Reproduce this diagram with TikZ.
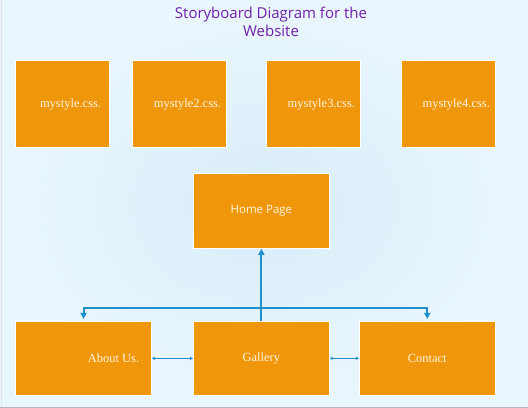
\documentclass[tikz,border=0pt]{standalone}
\usepackage{fontspec}
\setmainfont{Liberation Serif}
\newfontfamily\titlefont{Open Sans}
\usetikzlibrary{arrows.meta}
\definecolor{boxorange}{RGB}{240,150,10}
\definecolor{linkblue}{RGB}{30,144,206}
\definecolor{titlepurple}{RGB}{112,32,170}
\definecolor{bginner}{RGB}{216,237,249}
\definecolor{bgouter}{RGB}{234,246,253}
\definecolor{boxtext}{RGB}{255,246,226}
\tikzset{
	page/.style={draw=white, line width=0.8pt, fill=boxorange, anchor=north west, inner sep=0pt, text=boxtext, font=\fontsize{12.5}{14}\selectfont},
	csspage/.style={page, minimum width=94pt, minimum height=87pt},
	navpage/.style={page, minimum width=136pt, minimum height=74pt},
	pagelabel/.style={text=boxtext, font=\fontsize{12.5}{14}\selectfont},
	link/.style={draw=linkblue, line width=2pt, -{Triangle[length=6pt,width=6pt]}},
	sidelink/.style={draw=linkblue, line width=0.8pt, {Triangle[length=3pt,width=3pt]}-{Triangle[length=3pt,width=3pt]}}
}
\begin{document}
\begin{tikzpicture}[x=1pt, y=-1pt]
				%background
				\shade[inner color=bginner, outer color=bgouter] (0,0) rectangle (528,408);
				\draw[gray!55] (0,407) -- (528,407);
				\draw[gray!20] (1,0) -- (1,407);
				\useasboundingbox (0,0) rectangle (528,408);
				%title
				\node[align=center, text=titlepurple, font=\titlefont\fontsize{15}{18}\selectfont] (title) at (271,22) {Storyboard Diagram for the\\Website};
				%style sheets
				\foreach \x/\n/\t in {15/1/mystyle.css., 132/2/mystyle2.css., 266/3/mystyle3.css., 401/4/mystyle4.css.} {
					\node[csspage, label={[pagelabel, xshift=8pt]center:\t}] (css\n) at (\x, 60) {};
				}
				%pages
				\node[navpage, minimum height=75pt, font=\titlefont\fontsize{11.5}{14}\selectfont] (home) at (193,173) {Home Page};
				\node[navpage, label={[pagelabel, xshift=30pt]center:About Us.}] (about) at (15,321) {};
				\node[navpage] (gallery) at (193,321) {Gallery};
				\node[navpage] (contact) at (359,321) {Contact};
				%links
				\coordinate (bus) at (261,308);
				\draw[link] (gallery.north) -- (home.south);
				\draw[link, shorten >=2pt] (bus) -| (about.north);
				\draw[link, shorten >=2pt] (bus) -| (contact.north);
				\draw[sidelink] (about.east) -- (gallery.west);
				\draw[sidelink] (gallery.east) -- (contact.west);
			\end{tikzpicture}
\end{document}
